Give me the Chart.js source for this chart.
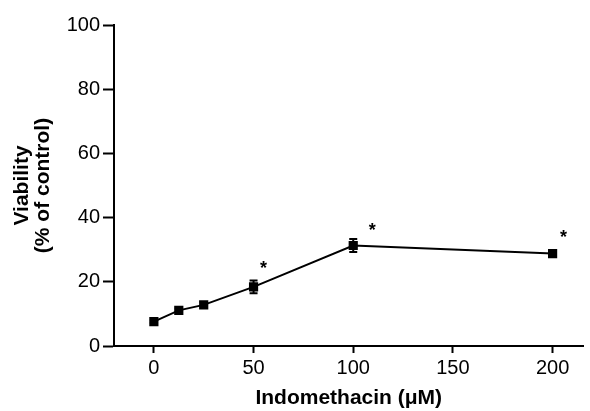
<!DOCTYPE html>
<html lang="en">
<head>
    <meta charset="UTF-8">
    <title>Viability vs Indomethacin</title>
    <script src="https://cdn.jsdelivr.net/npm/chart.js@4"></script>
    <style>
        html, body {
            margin: 0;
            padding: 0;
            background: #fff;
        }
        #wrap {
            width: 590px;
            height: 411px;
        }
    </style>
</head>
<body>
<div id="wrap"><canvas id="viabilityChart"></canvas></div>
<script>
    // Данные
    const doses = [0, 12.5, 25, 50, 100, 200];
    const viability = [7.6, 11.1, 12.8, 18.4, 31.3, 28.8];
    const sem = [0.4, 0.6, 0.9, 2.0, 2.0, 1.0];

    // Звёздочки значимости
    const starDoses = [55, 109.5, 205.5];
    const starLevels = [25.6, 37.4, 35.3];

    const xTicks = [0, 50, 100, 150, 200];
    const yTicks = [0, 20, 40, 60, 80, 100];

    const tickFont = { family: 'Liberation Sans, Arial, sans-serif', size: 20 };
    const titleFont = { family: 'Liberation Sans, Arial, sans-serif', size: 21, weight: 'bold', lineHeight: 1.0 };

    const errorBars = {
        id: 'errorBars',
        afterDatasetsDraw(chart) {
            const ctx = chart.ctx;
            const x = chart.scales.x;
            const y = chart.scales.y;
            ctx.save();
            ctx.strokeStyle = '#000';
            ctx.lineWidth = 2;
            doses.forEach((d, i) => {
                const px = x.getPixelForValue(d);
                const top = y.getPixelForValue(viability[i] + sem[i]);
                const bottom = y.getPixelForValue(viability[i] - sem[i]);
                ctx.beginPath();
                ctx.moveTo(px, top);
                ctx.lineTo(px, bottom);
                ctx.moveTo(px - 4, top);
                ctx.lineTo(px + 4, top);
                ctx.moveTo(px - 4, bottom);
                ctx.lineTo(px + 4, bottom);
                ctx.stroke();
            });

            // звёздочки
            ctx.fillStyle = '#000';
            ctx.font = 'bold 18px Liberation Sans, Arial, sans-serif';
            ctx.textAlign = 'center';
            ctx.textBaseline = 'alphabetic';
            starDoses.forEach((d, i) => {
                const px = x.getPixelForValue(d);
                const py = y.getPixelForValue(starLevels[i]);
                ctx.fillText('*', px, py + 18 * 0.55);
            });
            ctx.restore();
        }
    };

    const ctx = document.getElementById('viabilityChart').getContext('2d');
    const chart = new Chart(ctx, {
        type: 'line',
        data: {
            datasets: [{
                data: doses.map((d, i) => ({ x: d, y: viability[i] })),
                borderColor: '#000',
                borderWidth: 2,
                pointStyle: 'rect',
                pointRadius: 6.5,
                pointBackgroundColor: '#000',
                pointBorderColor: '#000',
                pointBorderWidth: 0,
                tension: 0,
                fill: false
            }]
        },
        options: {
            responsive: true,
            maintainAspectRatio: false,
            animation: false,
            events: [],
            layout: {
                padding: { top: 25, right: 0, left: 0, bottom: 0 }
            },
            plugins: {
                legend: { display: false },
                tooltip: { enabled: false }
            },
            scales: {
                x: {
                    type: 'linear',
                    min: -20,
                    max: 215.5,
                    afterBuildTicks: (axis) => {
                        axis.ticks = xTicks.map(v => ({ value: v }));
                    },
                    afterFit: (axis) => {
                        axis.height = 65;
                    },
                    border: { display: true, color: '#000', width: 2 },
                    grid: {
                        drawOnChartArea: false,
                        drawTicks: true,
                        tickLength: 7,
                        tickWidth: 2,
                        tickColor: '#000'
                    },
                    ticks: {
                        color: '#000',
                        font: tickFont,
                        padding: 3,
                        maxRotation: 0
                    },
                    title: {
                        display: true,
                        text: 'Indomethacin (\u03BCM)',
                        color: '#000',
                        font: titleFont,
                        padding: { top: 0, bottom: 2 }
                    }
                },
                y: {
                    min: 0,
                    max: 100,
                    afterBuildTicks: (axis) => {
                        axis.ticks = yTicks.map(v => ({ value: v }));
                    },
                    afterFit: (axis) => {
                        axis.width = 114;
                    },
                    border: { display: true, color: '#000', width: 2 },
                    grid: {
                        drawOnChartArea: false,
                        drawTicks: true,
                        tickLength: 11,
                        tickWidth: 2,
                        tickColor: '#000'
                    },
                    ticks: {
                        color: '#000',
                        font: tickFont,
                        padding: 3
                    },
                    title: {
                        display: true,
                        text: ['Viability', '(% of control)'],
                        color: '#000',
                        font: titleFont,
                        padding: { top: 12, bottom: 0 }
                    }
                }
            }
        },
        plugins: [errorBars]
    });
</script>
</body>
</html>
